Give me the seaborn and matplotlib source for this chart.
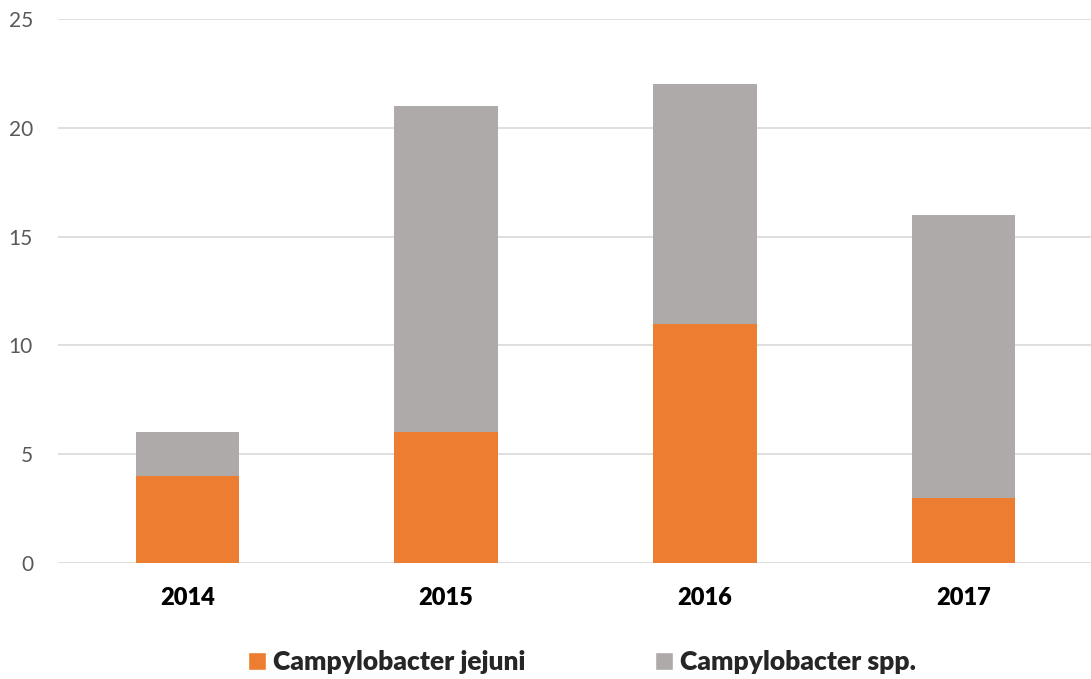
import numpy as np
import pandas as pd
import matplotlib
matplotlib.use('Agg')
import matplotlib.pyplot as plt
import seaborn as sns
from matplotlib.patches import Patch

# Data per tahun
years = ['2014', '2015', '2016', '2017']
jejuni = [4, 6, 11, 3]
spp = [2, 15, 11, 13]
yticks = [0, 5, 10, 15, 20, 25]

totals = [a + b for a, b in zip(jejuni, spp)]
df = pd.DataFrame({'year': years, 'jejuni': jejuni, 'total': totals})

orange = '#ED7D31'
gray = '#AEAAAA'

sns.set_style('white')
plt.rcParams['font.family'] = ['Lato', 'DejaVu Sans']

fig = plt.figure(figsize=(10.91, 6.79), dpi=100)
ax = fig.add_axes([58 / 1091, 116 / 679, 1035 / 1091, 544 / 679])

# stacked bars: total di belakang, jejuni di depan
sns.barplot(data=df, x='year', y='total', color=gray, width=0.4, saturation=1,
            linewidth=0, ax=ax, zorder=3)
sns.barplot(data=df, x='year', y='jejuni', color=orange, width=0.4, saturation=1,
            linewidth=0, ax=ax, zorder=3)

ax.set_ylim(0, 25)
ax.set_xlim(-0.5, 3.5)
ax.set_yticks(yticks)
ax.set_yticklabels([str(t) for t in yticks], fontsize=15, color='#595959')
ax.set_xticks(range(len(years)))
ax.set_xticklabels(years, fontsize=17, fontweight='heavy', color='black')
ax.tick_params(axis='both', length=0)
ax.tick_params(axis='x', pad=17)
ax.tick_params(axis='y', pad=18)
ax.set_xlabel('')
ax.set_ylabel('')
ax.yaxis.grid(True, color='#D9D9D9', linewidth=1.2, zorder=0)
ax.set_axisbelow(True)
for s in ax.spines.values():
    s.set_visible(False)

handles = [Patch(facecolor=orange, label='Campylobacter jejuni'),
           Patch(facecolor=gray, label='Campylobacter spp.')]
fig.legend(handles=handles, loc='center', bbox_to_anchor=(582 / 1091, 1 - 662 / 679),
           ncol=2, frameon=False, prop={'size': 19, 'weight': 'heavy'},
           handlelength=0.68, handleheight=0.68, handletextpad=0.27, columnspacing=4.9,
           borderpad=0, borderaxespad=0)

fig.savefig('out.png', dpi=100)
